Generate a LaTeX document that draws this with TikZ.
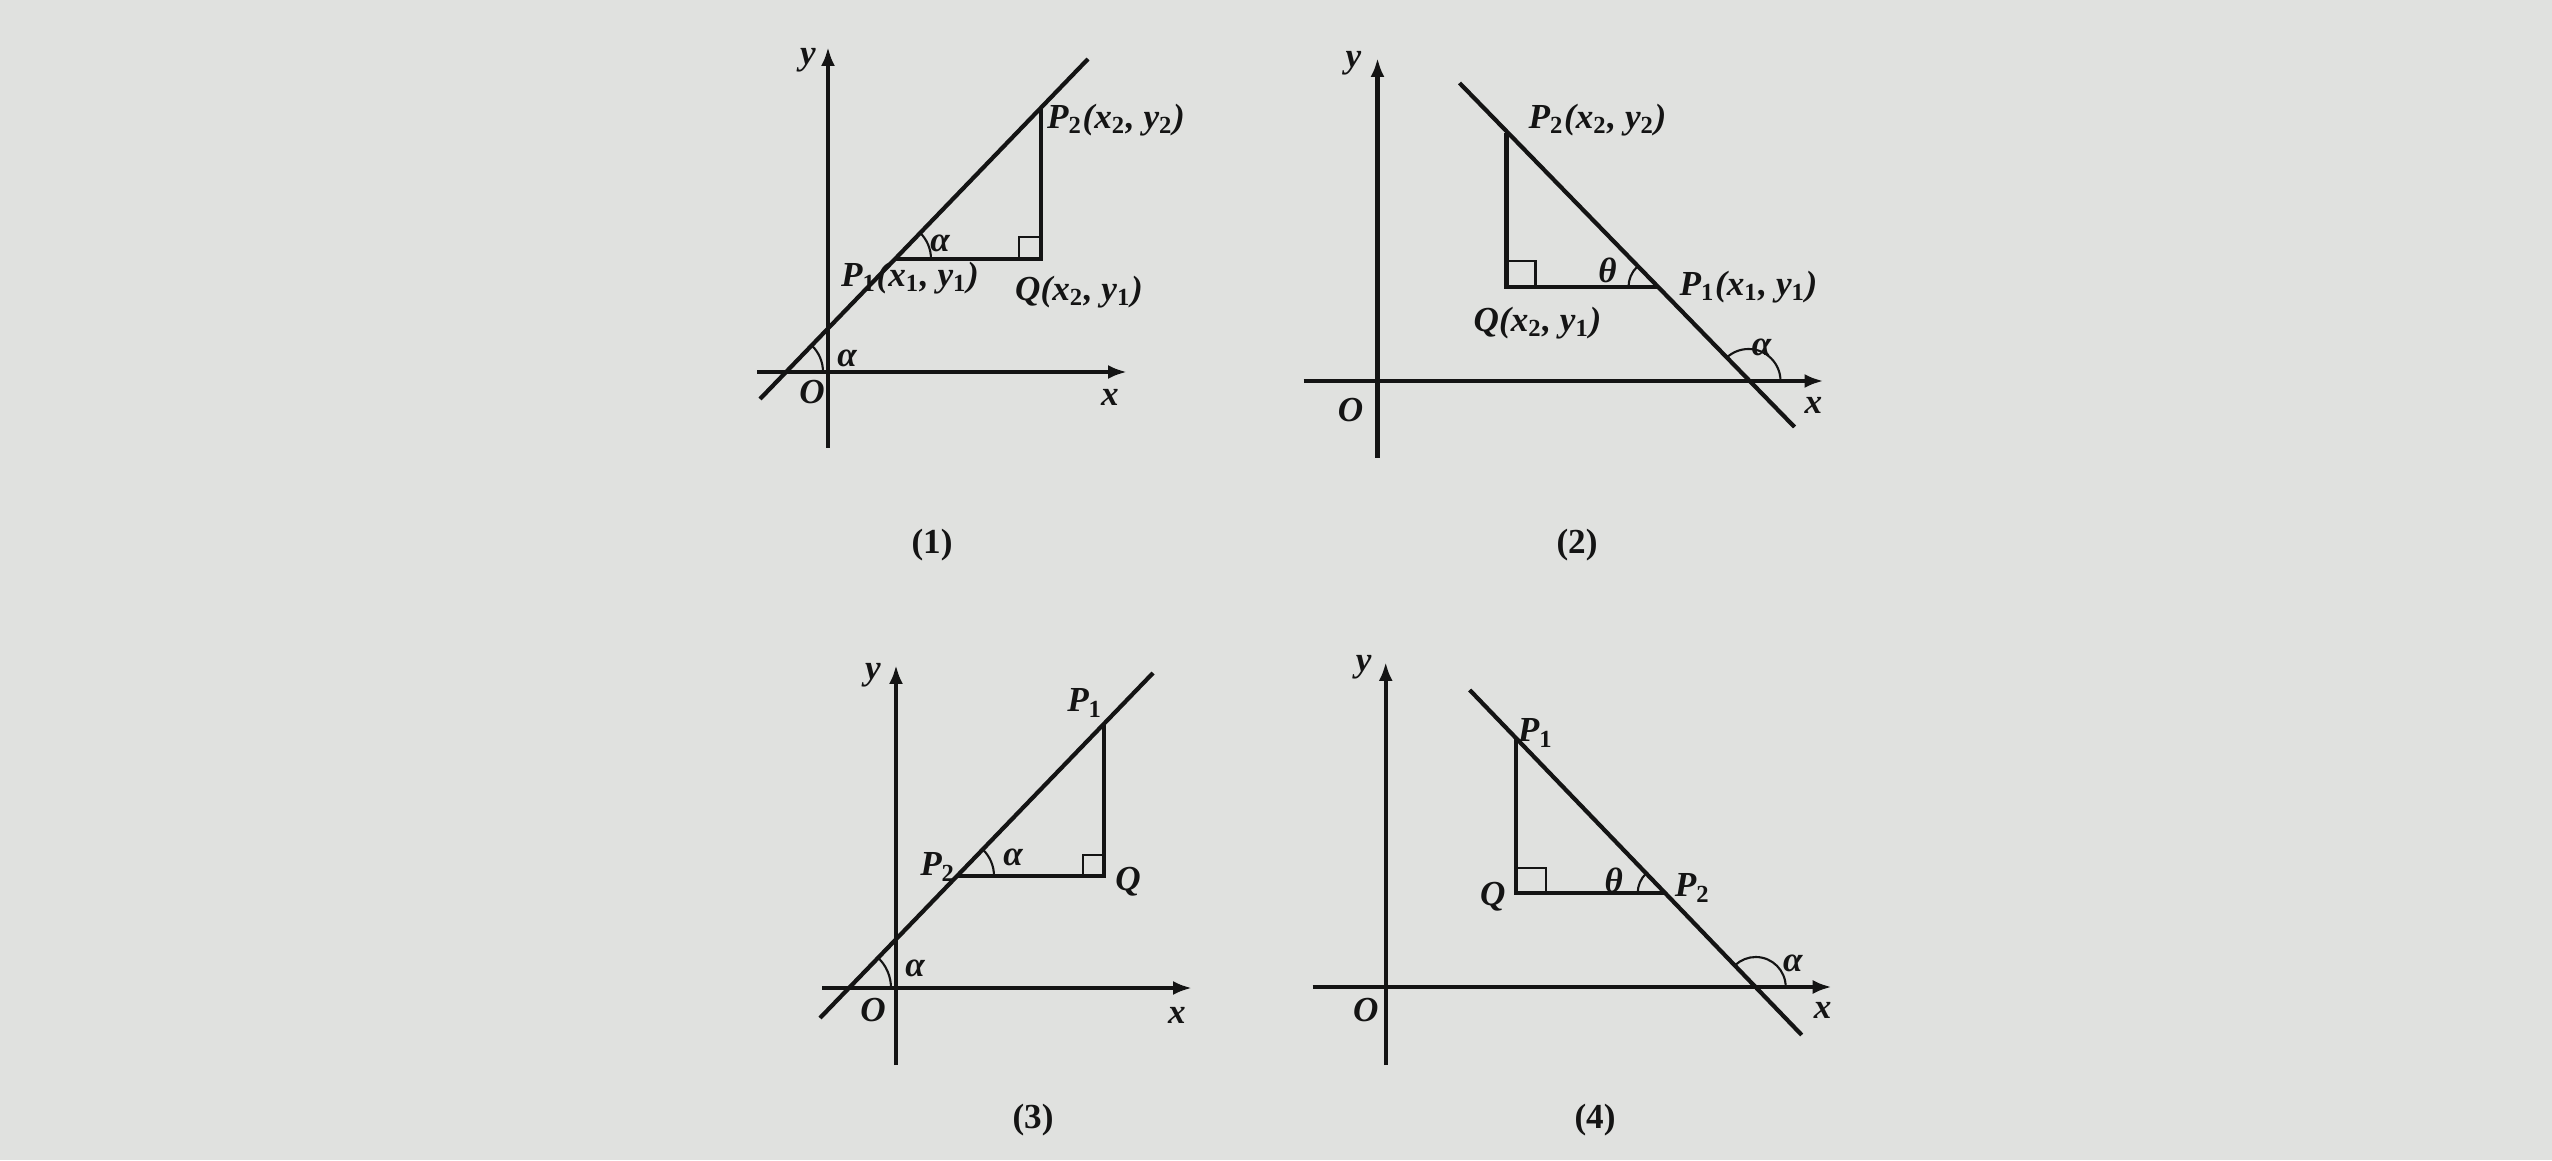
\documentclass[tikz,border=0pt]{standalone}
\usepackage{fontspec}
\setmainfont{Liberation Serif}
\usetikzlibrary{arrows.meta}
\definecolor{paper}{RGB}{224,225,223}
\definecolor{ink}{RGB}{20,20,20}
\newcommand{\lowix}[1]{\textsubscript{\upshape #1}}
\tikzset{every path/.style={ink,very thick}, lbl/.style={font=\bfseries\itshape, inner sep=1pt}, capt/.style={font=\bfseries}}
\tikzset{axis/.style={-{Latex[length=1.9mm,width=1.4mm]}}, thinmark/.style={semithick}}

\begin{document}
\begin{tikzpicture}
   \fill[paper] (0,0) rectangle (25.52,11.6);
   \useasboundingbox (0,0) rectangle (25.52,11.6);
   % (1)
   \begin{scope}[shift={(8.28,7.88)}]
    \draw[axis] (0,-0.76) -- (0,3.25);
    \draw[axis] (-0.71,0) -- (2.99,0);
    \coordinate (Aa) at (-0.42,0);
    \coordinate (P1a) at (0.66,1.13);
    \coordinate (Qa) at (2.13,1.13);
    \coordinate (P2a) at (2.13,2.64);
    \draw (-0.68,-0.27) -- (2.60,3.13);
    \draw (P1a) -- (Qa) -- (P2a);
    \draw[thinmark] (Qa) ++(-0.22,0) -- ++(0,0.22) -- ++(0.22,0);
    \draw[thinmark] (Aa) ++(0.37,0) arc[start angle=0, end angle=46, radius=0.37];
    \draw[thinmark] (P1a) ++(0.37,0) arc[start angle=0, end angle=46, radius=0.37];
    \node[lbl] (ya) at (-0.20,3.12) {y};
    \node[lbl] (xa) at (2.82,-0.25) {x};
    \node[lbl] (Oa) at (-0.16,-0.20) {O};
    \node[lbl] (al0a) at (0.19,0.14) {α};
    \node[lbl] (al1a) at (1.12,1.29) {α};
    \node[lbl] (lP1a) at (0.82,0.94) {P\lowix{1}(x\lowix{1}, y\lowix{1})};
    \node[lbl] (lQa) at (2.51,0.80) {Q(x\lowix{2}, y\lowix{1})};
    \node[lbl] (lP2a) at (2.88,2.52) {P\lowix{2}(x\lowix{2}, y\lowix{2})};
   \end{scope}
   % (2)
   \begin{scope}[shift={(13.775,7.79)}]
    \draw[axis] (0,-0.77) -- (0,3.23);
    \draw[axis] (-0.74,0) -- (4.46,0);
    \coordinate (Bb) at (3.71,0);
    \coordinate (P2b) at (1.29,2.48);
    \coordinate (Qb) at (1.29,0.94);
    \coordinate (P1b) at (2.79,0.94);
    \draw (0.82,2.98) -- (4.17,-0.46);
    \draw (P2b) -- (Qb) -- (P1b);
    \draw[thinmark] (Qb) ++(0.29,0) -- ++(0,0.26) -- ++(-0.29,0);
    \draw[thinmark] (P1b) ++(-0.28,0) arc[start angle=180, end angle=134.2, radius=0.28];
    \draw[thinmark] (Bb) ++(0.32,0) arc[start angle=0, end angle=134.2, radius=0.32];
    \node[lbl] (yb) at (-0.24,3.18) {y};
    \node[lbl] (xb) at (4.36,-0.24) {x};
    \node[lbl] (Ob) at (-0.27,-0.29) {O};
    \node[lbl] (thb) at (2.30,1.11) {θ};
    \node[lbl] (alb) at (3.84,0.34) {α};
    \node[lbl] (lP2b) at (2.20,2.61) {P\lowix{2}(x\lowix{2}, y\lowix{2})};
    \node[lbl] (lP1b) at (3.71,0.94) {P\lowix{1}(x\lowix{1}, y\lowix{1})};
    \node[lbl] (lQb) at (1.60,0.58) {Q(x\lowix{2}, y\lowix{1})};
   \end{scope}
   % (3)
   \begin{scope}[shift={(8.96,1.72)}]
    \draw[axis] (0,-0.77) -- (0,3.23);
    \draw[axis] (-0.74,0) -- (2.96,0);
    \coordinate (Cc) at (-0.47,0);
    \coordinate (P2c) at (0.61,1.12);
    \coordinate (Qc) at (2.08,1.12);
    \coordinate (P1c) at (2.08,2.64);
    \draw (-0.76,-0.30) -- (2.57,3.15);
    \draw (P2c) -- (Qc) -- (P1c);
    \draw[thinmark] (Qc) ++(-0.21,0) -- ++(0,0.21) -- ++(0.21,0);
    \draw[thinmark] (Cc) ++(0.42,0) arc[start angle=0, end angle=46, radius=0.42];
    \draw[thinmark] (P2c) ++(0.37,0) arc[start angle=0, end angle=46, radius=0.37];
    \node[lbl] (yc) at (-0.23,3.13) {y};
    \node[lbl] (xc) at (2.81,-0.27) {x};
    \node[lbl] (Oc) at (-0.23,-0.22) {O};
    \node[lbl] (al0c) at (0.19,0.20) {α};
    \node[lbl] (al1c) at (1.17,1.31) {α};
    \node[lbl] (lP2c) at (0.42,1.21) {P\lowix{2}};
    \node[lbl] (lP1c) at (1.89,2.85) {P\lowix{1}};
    \node[lbl] (lQc) at (2.32,1.06) {Q};
   \end{scope}
   % (4)
   \begin{scope}[shift={(13.857,1.73)}]
    \draw[axis] (0,-0.78) -- (0,3.25);
    \draw[axis] (-0.73,0) -- (4.46,0);
    \coordinate (Dd) at (3.70,0);
    \coordinate (P1d) at (1.30,2.49);
    \coordinate (Qd) at (1.30,0.94);
    \coordinate (P2d) at (2.79,0.94);
    \draw (0.84,2.97) -- (4.16,-0.48);
    \draw (P1d) -- (Qd) -- (P2d);
    \draw[thinmark] (Qd) ++(0.30,0) -- ++(0,0.25) -- ++(-0.30,0);
    \draw[thinmark] (P2d) ++(-0.27,0) arc[start angle=180, end angle=133.9, radius=0.27];
    \draw[thinmark] (Dd) ++(0.30,0) arc[start angle=0, end angle=133.9, radius=0.30];
    \node[lbl] (yd) at (-0.22,3.20) {y};
    \node[lbl] (xd) at (4.37,-0.23) {x};
    \node[lbl] (Od) at (-0.20,-0.23) {O};
    \node[lbl] (thd) at (2.28,1.07) {θ};
    \node[lbl] (ald) at (4.07,0.24) {α};
    \node[lbl] (lP1d) at (1.50,2.54) {P\lowix{1}};
    \node[lbl] (lP2d) at (3.07,0.99) {P\lowix{2}};
    \node[lbl] (lQd) at (1.07,0.90) {Q};
   \end{scope}
   % captions
   \node[capt] (c1) at (9.32,6.15) {(1)};
   \node[capt] (c2) at (15.77,6.15) {(2)};
   \node[capt] (c3) at (10.33,0.40) {(3)};
   \node[capt] (c4) at (15.95,0.40) {(4)};
\end{tikzpicture}
\end{document}
